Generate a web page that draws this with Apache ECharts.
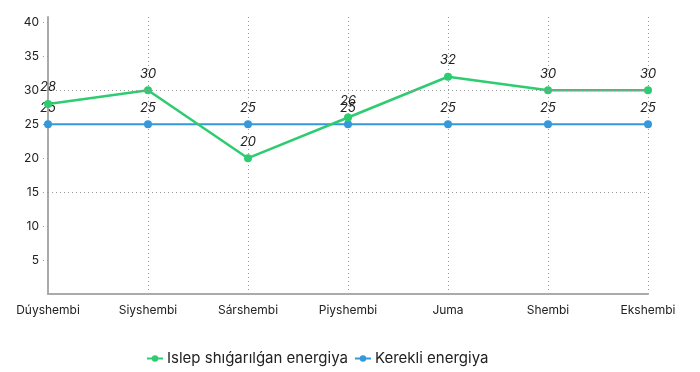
<!DOCTYPE html>
<html><head><meta charset="utf-8">
<script src="https://cdn.jsdelivr.net/npm/echarts@6/dist/echarts.min.js"></script>
<style>html,body{margin:0;padding:0;background:#fff}#c{width:700px;height:372px}</style>
</head><body><div id="c"></div>
<script>
const categories = ['Dúyshembi','Siyshembi','Sárshembi','Piyshembi','Juma','Shembi','Ekshembi'];
const produced = [28,30,20,26,32,30,30];
const required = [25,25,25,25,25,25,25];
const yTicks = [5,10,15,20,25,30,35,40];
const gridLines = [15,30];
const seriesNames = ['Islep shıǵarılǵan energiya','Kerekli energiya'];

const chart = echarts.init(document.getElementById('c'));
const font = 'Inter, "Noto Sans", sans-serif';
const lbl = {show:true, position:'top', fontStyle:'italic', fontSize:13, color:'#222', fontFamily:font, distance:6};
chart.setOption({
  animation:false,
  textStyle:{fontFamily:font},
  grid:{left:48, right:52, top:17, bottom:78},
  legend:{top:346, left:141, itemWidth:16, itemHeight:8, itemGap:6,
    textStyle:{fontSize:15, color:'#222', fontFamily:font, padding:[0,0,0,-1]}, data:seriesNames},
  xAxis:{type:'category', data:categories, boundaryGap:false,
    axisLine:{lineStyle:{color:'#aaa', width:2}},
    axisTick:{show:false},
    axisLabel:{fontSize:12, color:'#222', margin:10, fontFamily:font},
    splitLine:{show:true, lineStyle:{color:'#999', type:[1,3], width:1}}},
  yAxis:{type:'value', min:0, max:40.8,
    axisLine:{show:true, lineStyle:{color:'#aaa', width:2}},
    axisTick:{show:true, length:5, customValues:yTicks, lineStyle:{color:'#999', type:[1,3]}},
    axisLabel:{customValues:yTicks, fontSize:12, color:'#222', margin:9, fontFamily:font},
    splitLine:{show:false}},
  series:[
    {name:seriesNames[0], type:'line', data:produced, symbol:'circle', symbolSize:8,
     itemStyle:{color:'#2ecc71'}, lineStyle:{width:2.5, color:'#2ecc71'}, label:lbl, z:3,
     markLine:{silent:true, symbol:'none', label:{show:false},
       lineStyle:{color:'#999', type:[1,3], width:1},
       data:gridLines.map(v=>({yAxis:v}))}},
    {name:seriesNames[1], type:'line', data:required, symbol:'circle', symbolSize:8,
     itemStyle:{color:'#3498db'}, lineStyle:{width:2, color:'#3498db'}, label:lbl, z:2}
  ]
});
</script></body></html>
